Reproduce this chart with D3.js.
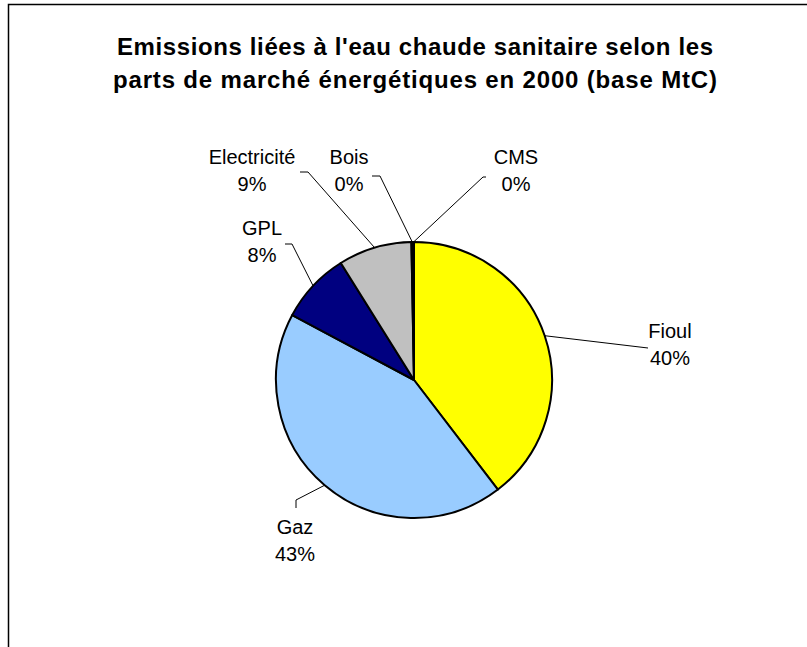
<!DOCTYPE html>
<html>
<head>
<meta charset="utf-8">
<script src="https://d3js.org/d3.v7.min.js"></script>
<style>
  body { margin: 0; background: #fff; }
  text { font-family: "Liberation Sans", Arial, sans-serif; fill: #000; }
</style>
</head>
<body>
<div id="chart"></div>
<script>
// data (share of MtC)
var categories = ["Fioul", "Gaz", "GPL", "Electricité", "Bois", "CMS"]
var values = [39.6, 43.2, 8.3, 8.6, 0.2, 0.1]
var colors = ["#ffff00", "#99ccff", "#000080", "#c0c0c0", "#ff0000", "#ffffff"]
var titleLines = ["Emissions liées à l'eau chaude sanitaire selon les",
                  "parts de marché énergétiques en 2000 (base MtC)"]

// where the labels sit, and the elbow of each leader line
var labelPos = [[670, 331], [295, 527], [262, 228], [252, 157], [349, 157], [516, 157]]
var elbows = [[648, 348], [296, 500], [292, 244], [308, 172], [380, 176], [483, 177]]
var lineEnds = [[648, 348], [296, 508], [285, 244], [300, 172], [372, 176], [486, 177]]

var width = 807, height = 647
var cx = 414, cy = 380, radius = 138

var svg = d3.select("#chart").append("svg")
  .attr("width", width)
  .attr("height", height)

// chart area frame (only top and left visible)
svg.append("path")
  .attr("d", "M8.5," + height + "V4.5H" + width)
  .attr("fill", "none")
  .attr("stroke", "#000")
  .attr("stroke-width", 1.5)

svg.selectAll(".title")
  .data(titleLines)
  .enter().append("text")
  .attr("class", "title")
  .attr("x", 415)
  .attr("y", function(d, i) { return 55 + i * 33 })
  .attr("text-anchor", "middle")
  .attr("textLength", function(d, i) { return i ? 604 : 596 })
  .attr("lengthAdjust", "spacing")
  .style("font-size", "24px")
  .style("font-weight", "bold")
  .text(function(d) { return d })

var pie = d3.pie().sort(null).value(function(d) { return d })
var slices = pie(values)
var total = d3.sum(values)

var arc = d3.arc().innerRadius(0).outerRadius(radius)
var edge = d3.arc().innerRadius(radius).outerRadius(radius)

var g = svg.append("g").attr("transform", "translate(" + cx + "," + cy + ")")

g.selectAll("path")
  .data(slices)
  .enter().append("path")
  .attr("d", arc)
  .attr("fill", function(d, i) { return colors[i] })
  .attr("stroke", "#000")
  .attr("stroke-width", 2)
  .attr("stroke-linejoin", "round")

// leader lines
var line = d3.line()
svg.selectAll(".leader")
  .data(slices)
  .enter().append("path")
  .attr("class", "leader")
  .attr("fill", "none")
  .attr("stroke", "#000")
  .attr("stroke-width", 1)
  .attr("d", function(d, i) {
    var c = edge.centroid(d)
    return line([[cx + c[0], cy + c[1]], elbows[i], lineEnds[i]])
  })

var labels = svg.selectAll(".lbl")
  .data(slices)
  .enter().append("text")
  .attr("class", "lbl")
  .attr("text-anchor", "middle")
  .style("font-size", "20px")

labels.append("tspan")
  .attr("x", function(d, i) { return labelPos[i][0] })
  .attr("y", function(d, i) { return labelPos[i][1] + 7 })
  .text(function(d, i) { return categories[i] })

labels.append("tspan")
  .attr("x", function(d, i) { return labelPos[i][0] })
  .attr("y", function(d, i) { return labelPos[i][1] + 34 })
  .text(function(d) { return Math.round(d.value / total * 100) + "%" })
</script>
</body>
</html>
